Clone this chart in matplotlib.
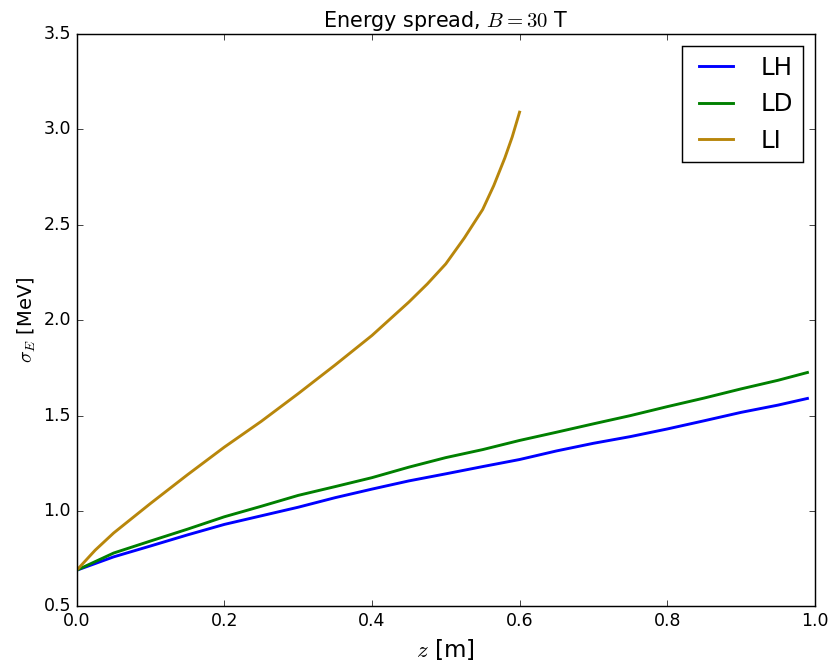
import matplotlib
matplotlib.use("Agg")
import matplotlib.pyplot as plt

plt.style.use("classic")

# Energy spread along the absorber for three materials
z_lh = [0.0, 0.05, 0.1, 0.15, 0.2, 0.25, 0.3, 0.35, 0.4, 0.45, 0.5, 0.55, 0.6,
        0.65, 0.7, 0.75, 0.8, 0.85, 0.9, 0.95, 0.99]
sigma_lh = [0.69, 0.76, 0.817, 0.875, 0.93, 0.975, 1.02, 1.07, 1.115, 1.158, 1.195,
            1.233, 1.27, 1.315, 1.355, 1.39, 1.43, 1.473, 1.517, 1.555, 1.59]

z_ld = [0.0, 0.05, 0.1, 0.15, 0.2, 0.25, 0.3, 0.35, 0.4, 0.45, 0.5, 0.55, 0.6,
        0.65, 0.7, 0.75, 0.8, 0.85, 0.9, 0.95, 0.99]
sigma_ld = [0.69, 0.78, 0.843, 0.905, 0.97, 1.025, 1.082, 1.128, 1.175, 1.23, 1.28,
            1.322, 1.37, 1.413, 1.457, 1.50, 1.547, 1.592, 1.64, 1.685, 1.726]

z_li = [0.0, 0.025, 0.05, 0.1, 0.15, 0.2, 0.25, 0.3, 0.35, 0.4, 0.45, 0.475, 0.5,
        0.525, 0.55, 0.565, 0.58, 0.59, 0.6]
sigma_li = [0.69, 0.795, 0.885, 1.04, 1.19, 1.335, 1.47, 1.615, 1.765, 1.92, 2.095,
            2.19, 2.295, 2.43, 2.58, 2.705, 2.85, 2.96, 3.09]

labels = ["LH", "LD", "LI"]
colors = ["#0000ff", "#008000", "#b8860b"]

fig = plt.figure(figsize=(834 / 104, 665 / 104), dpi=104, facecolor="white")
ax = fig.add_axes([0.092, 0.088, 0.885, 0.861])
ax.set_facecolor("white")

for z, s, lab, c in zip([z_lh, z_ld, z_li], [sigma_lh, sigma_ld, sigma_li], labels, colors):
    ax.plot(z, s, color=c, lw=2.0, label=lab)

ax.set_xlim(0.0, 1.0)
ax.set_ylim(0.5, 3.5)
ax.set_xticks([0.0, 0.2, 0.4, 0.6, 0.8, 1.0])
ax.set_yticks([0.5, 1.0, 1.5, 2.0, 2.5, 3.0, 3.5])
ax.tick_params(labelsize=12)

ax.set_title(r"Energy spread, $B=30$ T", fontsize=14.4)
ax.set_xlabel(r"$z$ [m]", fontsize=16)
ax.set_ylabel(r"$\sigma_E$ [MeV]", fontsize=13.5, labelpad=4)

ax.legend(loc="upper right", fontsize=17, frameon=True, fancybox=False,
          labelspacing=0.5, borderaxespad=0.5)

fig.savefig("out.png", dpi=104, facecolor="white")
